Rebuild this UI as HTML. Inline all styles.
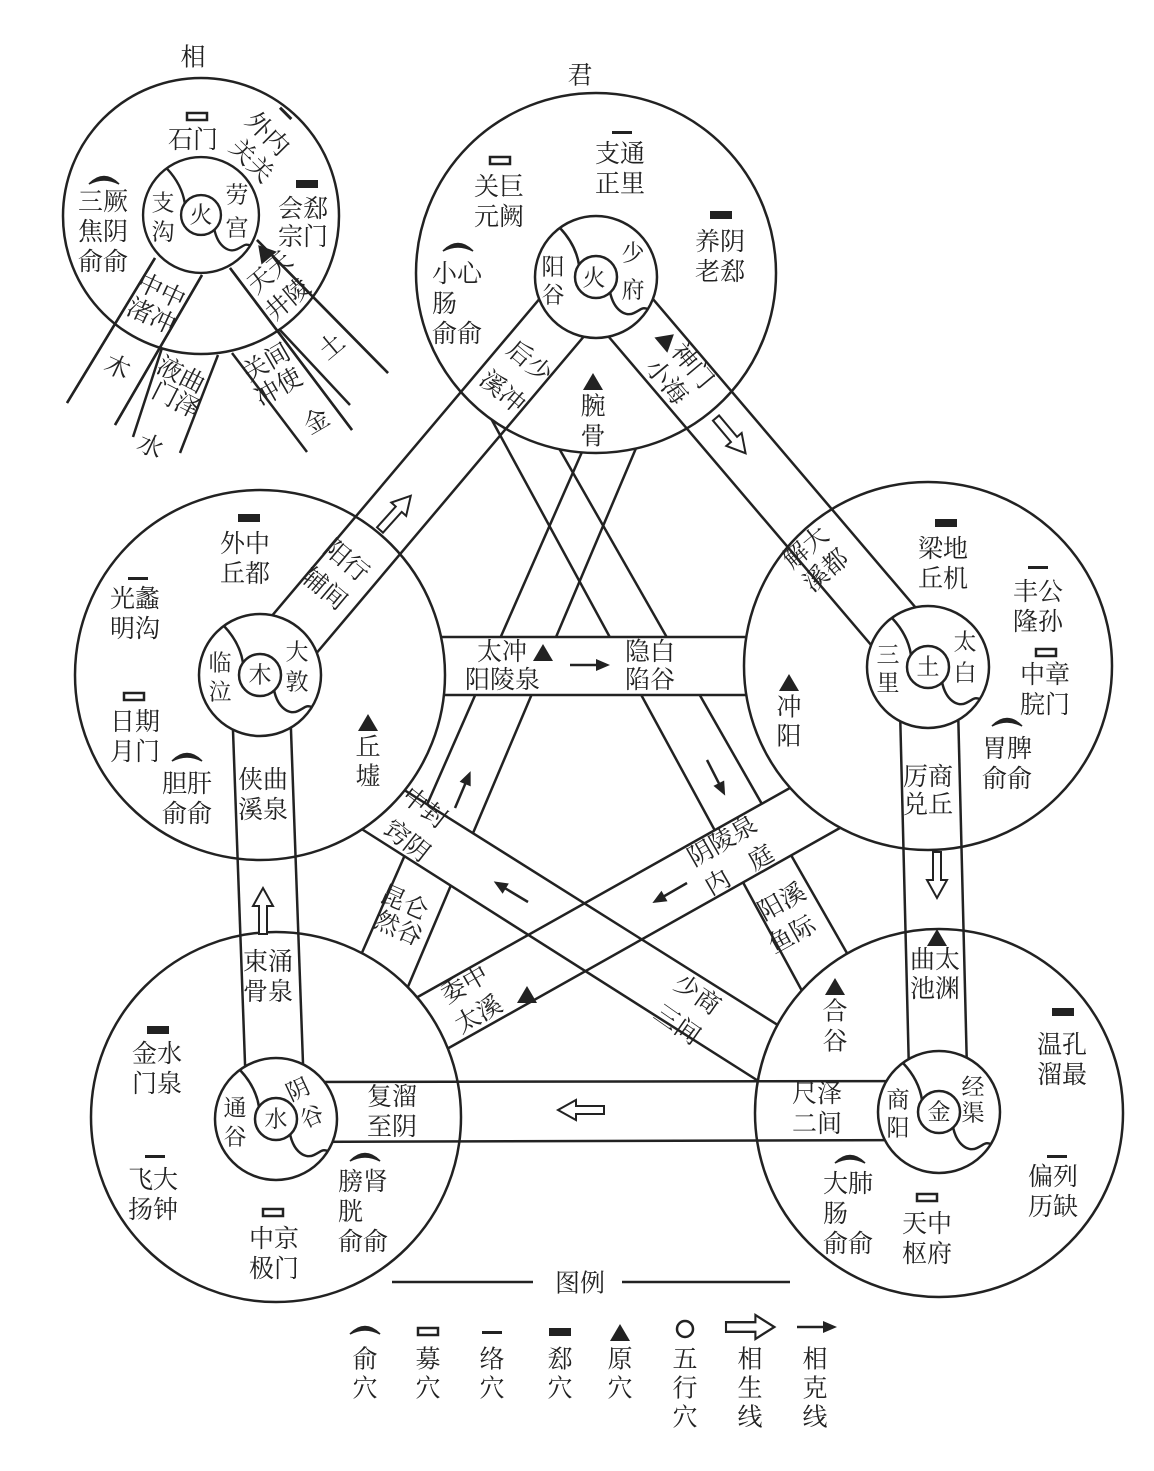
<!DOCTYPE html>
<html><head><meta charset="utf-8"><style>
html,body{margin:0;padding:0;background:#fff}
svg{display:block}
text{font-family:"Liberation Serif","Noto Serif CJK SC",serif;fill:#222;font-size:25px}
.c{text-anchor:middle;dominant-baseline:central}
.s{font-size:23px}
</style></head><body>
<svg width="1154" height="1471" viewBox="0 0 1154 1471" xmlns="http://www.w3.org/2000/svg">
<defs>
<g id="inner">
<circle r="61" fill="#fff" stroke="#222" stroke-width="2.5"/>
<path d="M-36,-49 Q-20,-32 -17,-12" fill="none" stroke="#222" stroke-width="2.5"/>
<path d="M14,15 C18,34 30,40 38,36 S46,30 52,32" fill="none" stroke="#222" stroke-width="2.5"/>
<circle r="21" fill="#fff" stroke="#222" stroke-width="2.5"/>
</g>
<path id="oarr" d="M0,-4 L28,-4 L28,-10 L46,0 L28,10 L28,4 L0,4 Z" fill="#fff" stroke="#222" stroke-width="2"/>
<g id="sarr"><line x1="0" y1="0" x2="30" y2="0" stroke="#222" stroke-width="2.5"/><polygon points="26,-6 40,0 26,6" fill="#222"/></g>
<path id="yu" d="M0,7 Q15,-8 30,7 Q15,-1 0,7Z" fill="#222" stroke="#222" stroke-width="1.5"/>
<rect id="mu" x="0" y="0" width="20" height="7" fill="#fff" stroke="#222" stroke-width="2.5"/>
<rect id="luo" x="0" y="0" width="20" height="3" fill="#222"/>
<rect id="xi" x="0" y="0" width="22" height="8" fill="#222"/>
<polygon id="yuan" points="0,-9 10,8 -10,8" fill="#222"/>
</defs>

<g stroke="#222" stroke-width="2.5" fill="none">
<!-- star lines -->
<line x1="481" y1="400" x2="814" y2="1013"/>
<line x1="552" y1="436" x2="860" y2="976"/>
<line x1="589" y1="436" x2="350" y2="980"/>
<line x1="642" y1="434" x2="396" y2="1015"/>
</g>
<g fill="#fff" stroke="none">
<polygon points="400,637 790,637 790,695 400,695"/>
<polygon points="382,776 800,1039 782,1096 338,814"/>
<polygon points="813,775 391,1012 422,1063 863,815"/>
</g>
<g stroke="#222" stroke-width="2.5" fill="none">
<line x1="400" y1="637" x2="790" y2="637"/>
<line x1="400" y1="695" x2="790" y2="695"/>
<line x1="382" y1="776" x2="800" y2="1039"/>
<line x1="338" y1="814" x2="782" y2="1096"/>
<line x1="813" y1="775" x2="391" y2="1012"/>
<line x1="863" y1="815" x2="422" y2="1063"/>
<!-- 相 lines -->
<line x1="155" y1="258" x2="67" y2="403"/>
<line x1="202" y1="275" x2="115" y2="425"/>
<line x1="162" y1="348" x2="133" y2="437"/>
<line x1="218" y1="355" x2="180" y2="453"/>
<line x1="232" y1="353" x2="307" y2="452"/>
<line x1="230" y1="268" x2="352" y2="430"/>
<line x1="280" y1="330" x2="350" y2="405"/>
<line x1="257" y1="240" x2="388" y2="373"/>
</g>
<!-- outer circles -->
<g fill="#fff" stroke="#222" stroke-width="2.5">
<circle cx="596" cy="273" r="180"/>
<circle cx="260" cy="675" r="185"/>
<circle cx="928" cy="666" r="184"/>
<circle cx="276" cy="1117" r="185"/>
<circle cx="939" cy="1113" r="184"/>
</g>
<circle cx="201" cy="216" r="138" fill="none" stroke="#222" stroke-width="2.5"/>
<!-- re-draw 相 lines inside circle -->
<g stroke="#222" stroke-width="2.5">
<line x1="155" y1="258" x2="67" y2="403"/>
<line x1="202" y1="275" x2="115" y2="425"/>
<line x1="230" y1="268" x2="352" y2="430"/>
<line x1="257" y1="240" x2="388" y2="373"/>
</g>
<!-- 生 bands -->
<g stroke="#222" stroke-width="2.5" fill="none">
<line x1="282" y1="694" x2="618" y2="296"/>
<line x1="238" y1="656" x2="574" y2="258"/>
<line x1="618" y1="258" x2="950" y2="648"/>
<line x1="574" y1="296" x2="906" y2="686"/>
<line x1="957" y1="666" x2="968" y2="1111"/>
<line x1="899" y1="668" x2="910" y2="1113"/>
<line x1="939" y1="1081" x2="276" y2="1082"/>
<line x1="939" y1="1140" x2="276" y2="1142"/>
<line x1="305" y1="1119" x2="289" y2="675"/>
<line x1="247" y1="1119" x2="231" y2="675"/>
</g>
<!-- inner circles -->
<use href="#inner" x="596" y="277"/>
<use href="#inner" x="260" y="675"/>
<use href="#inner" x="928" y="667"/>
<use href="#inner" x="276" y="1119"/>
<use href="#inner" x="939" y="1112"/>
<use href="#inner" transform="translate(201,215) scale(0.95)"/>

<!-- element chars -->
<text class="c s" x="594" y="278">火</text>
<text class="c s" x="260" y="675">木</text>
<text class="c s" x="928" y="667">土</text>
<text class="c s" x="276" y="1119">水</text>
<text class="c s" x="939" y="1112">金</text>
<text class="c s" x="201" y="215">火</text>

<!-- open arrows (相生) -->
<use href="#oarr" transform="translate(380,530) rotate(-48)"/>
<use href="#oarr" transform="translate(716,418) rotate(50)"/>
<use href="#oarr" transform="translate(937,852) rotate(90)"/>
<use href="#oarr" transform="translate(604,1110) rotate(180)"/>
<use href="#oarr" transform="translate(263,934) rotate(-90)"/>
<!-- solid arrows (相克) -->
<use href="#sarr" transform="translate(570,665)"/>
<use href="#sarr" transform="translate(455,808) rotate(-67)"/>
<use href="#sarr" transform="translate(707,760) rotate(63)"/>
<use href="#sarr" transform="translate(528,902) rotate(-149)"/>
<use href="#sarr" transform="translate(687,883) rotate(150)"/>

<!-- ===== 相 circle ===== -->
<text class="c" x="193" y="58">相</text>
<use href="#mu" x="187" y="113"/>
<text x="168" y="148">石门</text>
<rect x="278" y="112" width="16" height="3" fill="#222" transform="rotate(45 286 113)"/>
<text transform="translate(244,122) rotate(45)">外内</text>
<text transform="translate(228,149) rotate(45)">关关</text>
<use href="#xi" x="296" y="180"/>
<text x="278" y="217">会郄</text>
<text x="278" y="245">宗门</text>
<use href="#yu" x="89" y="177"/>
<text x="78" y="210">三厥</text>
<text x="78" y="240">焦阴</text>
<text x="78" y="270">俞俞</text>
<text class="c s" x="163" y="203">支</text>
<text class="c s" x="163" y="232">沟</text>
<text class="c s" x="237" y="195">劳</text>
<text class="c s" x="237" y="228">宫</text>
<polygon points="0,-9 10,8 -10,8" fill="#222" transform="translate(264,252) rotate(-40)"/>
<text transform="translate(256,295) rotate(-40)">天天</text>
<text transform="translate(274,322) rotate(-40)">井陵</text>
<text transform="translate(135,288) rotate(25)">中中</text>
<text transform="translate(125,313) rotate(25)">渚冲</text>
<text transform="translate(155,371) rotate(27)">液曲</text>
<text transform="translate(150,396) rotate(27)">门泽</text>
<text transform="translate(249,382) rotate(-30)">关间</text>
<text transform="translate(261,407) rotate(-30)">冲使</text>
<text class="c" transform="translate(117,368) rotate(25)">木</text>
<text class="c" transform="translate(150,447) rotate(25)">水</text>
<text class="c" transform="translate(317,422) rotate(-30)">金</text>
<text class="c" transform="translate(332,347) rotate(-40)">土</text>

<!-- ===== 君 circle ===== -->
<text class="c" x="580" y="76">君</text>
<use href="#mu" x="490" y="157"/>
<text x="474" y="195">关巨</text>
<text x="474" y="225">元阙</text>
<use href="#luo" x="612" y="131"/>
<text x="595" y="162">支通</text>
<text x="595" y="192">正里</text>
<use href="#xi" x="710" y="211"/>
<text x="695" y="250">养阴</text>
<text x="695" y="280">老郄</text>
<use href="#yu" x="443" y="244"/>
<text x="432" y="282">小心</text>
<text x="432" y="312">肠</text>
<text x="432" y="342">俞俞</text>
<text class="c s" x="553" y="267">阳</text>
<text class="c s" x="553" y="295">谷</text>
<text class="c s" x="633" y="253">少</text>
<text class="c s" x="633" y="290">府</text>
<use href="#yuan" x="593" y="382"/>
<text class="c" x="593" y="407">腕</text>
<text class="c" x="593" y="437">骨</text>
<text transform="translate(505,352) rotate(40)">后少</text>
<text transform="translate(478,382) rotate(40)">溪冲</text>
<polygon points="0,-9 10,8 -10,8" fill="#222" transform="translate(667,340) rotate(50)"/>
<text transform="translate(670,352) rotate(50)">神门</text>
<text transform="translate(644,368) rotate(50)">小海</text>

<!-- ===== 木 circle ===== -->
<use href="#xi" x="238" y="514"/>
<text x="220" y="552">外中</text>
<text x="220" y="582">丘都</text>
<use href="#luo" x="128" y="577"/>
<text x="110" y="607">光蠡</text>
<text x="110" y="637">明沟</text>
<use href="#mu" x="124" y="693"/>
<text x="110" y="730">日期</text>
<text x="110" y="760">月门</text>
<use href="#yu" x="172" y="754"/>
<text x="162" y="792">胆肝</text>
<text x="162" y="822">俞俞</text>
<text class="c s" x="220" y="663">临</text>
<text class="c s" x="220" y="692">泣</text>
<text class="c s" x="297" y="652">大</text>
<text class="c s" x="297" y="682">敦</text>
<use href="#yuan" x="368" y="723"/>
<text class="c" x="368" y="748">丘</text>
<text class="c" x="368" y="777">墟</text>
<text x="238" y="788">侠曲</text>
<text x="238" y="818">溪泉</text>
<text transform="translate(322,551) rotate(40)">阳行</text>
<text transform="translate(300,579) rotate(40)">辅间</text>

<!-- ===== 土 circle ===== -->
<use href="#xi" x="935" y="519"/>
<text x="918" y="557">梁地</text>
<text x="918" y="587">丘机</text>
<use href="#luo" x="1028" y="566"/>
<text x="1013" y="600">丰公</text>
<text x="1013" y="630">隆孙</text>
<use href="#mu" x="1036" y="649"/>
<text x="1020" y="683">中章</text>
<text x="1020" y="713">脘门</text>
<use href="#yu" x="992" y="719"/>
<text x="982" y="757">胃脾</text>
<text x="982" y="787">俞俞</text>
<text class="c s" x="888" y="655">三</text>
<text class="c s" x="888" y="683">里</text>
<text class="c s" x="965" y="642">太</text>
<text class="c s" x="965" y="673">白</text>
<use href="#yuan" x="789" y="683"/>
<text class="c" x="789" y="708">冲</text>
<text class="c" x="789" y="737">阳</text>
<text x="903" y="785">厉商</text>
<text x="903" y="813">兑丘</text>
<text transform="translate(792,570) rotate(-40)">解大</text>
<text transform="translate(812,593) rotate(-40)">溪都</text>

<!-- ===== 水 circle ===== -->
<use href="#xi" x="147" y="1026"/>
<text x="132" y="1062">金水</text>
<text x="132" y="1092">门泉</text>
<use href="#luo" x="145" y="1155"/>
<text x="128" y="1188">飞大</text>
<text x="128" y="1218">扬钟</text>
<use href="#mu" x="263" y="1209"/>
<text x="249" y="1247">中京</text>
<text x="249" y="1277">极门</text>
<use href="#yu" x="350" y="1154"/>
<text x="338" y="1190">膀肾</text>
<text x="338" y="1220">胱</text>
<text x="338" y="1250">俞俞</text>
<text class="c s" x="235" y="1108">通</text>
<text class="c s" x="235" y="1137">谷</text>
<text class="c s" transform="translate(298,1090) rotate(-25)">阴</text>
<text class="c s" transform="translate(312,1117) rotate(-25)">谷</text>
<text x="367" y="1105">复溜</text>
<text x="367" y="1135">至阴</text>
<text x="243" y="970">束涌</text>
<text x="243" y="1000">骨泉</text>

<!-- ===== 金 circle ===== -->
<use href="#yuan" x="937" y="938"/>
<text x="910" y="968">曲太</text>
<text x="910" y="997">池渊</text>
<use href="#xi" x="1052" y="1008"/>
<text x="1037" y="1053">温孔</text>
<text x="1037" y="1083">溜最</text>
<use href="#yuan" x="835" y="987"/>
<text class="c" x="835" y="1012">合</text>
<text class="c" x="835" y="1042">谷</text>
<text x="792" y="1102">尺泽</text>
<text x="792" y="1132">二间</text>
<text class="c s" x="898" y="1100">商</text>
<text class="c s" x="898" y="1128">阳</text>
<text class="c s" x="973" y="1087">经</text>
<text class="c s" x="973" y="1113">渠</text>
<use href="#yu" x="835" y="1156"/>
<text x="823" y="1192">大肺</text>
<text x="823" y="1222">肠</text>
<text x="823" y="1252">俞俞</text>
<use href="#mu" x="917" y="1194"/>
<text x="902" y="1232">天中</text>
<text x="902" y="1262">枢府</text>
<use href="#luo" x="1047" y="1155"/>
<text x="1028" y="1185">偏列</text>
<text x="1028" y="1215">历缺</text>

<!-- ===== center star labels ===== -->
<text x="477" y="660">太冲</text>
<use href="#yuan" x="543" y="653"/>
<text x="465" y="688">阳陵泉</text>
<text x="625" y="660">隐白</text>
<text x="625" y="688">陷谷</text>
<text transform="translate(400,799) rotate(38)">中封</text>
<text transform="translate(382,832) rotate(38)">窍阴</text>
<text transform="translate(378,900) rotate(24)">昆仑</text>
<text transform="translate(372,926) rotate(24)">然谷</text>
<text transform="translate(694,867) rotate(-30)">阴陵泉</text>
<text transform="translate(711,896) rotate(-30)">内　庭</text>
<text transform="translate(447,1004) rotate(-30)">委中</text>
<text transform="translate(461,1034) rotate(-30)">太溪</text>
<use href="#yuan" x="527" y="995"/>
<text transform="translate(764,921) rotate(-29)">阳溪</text>
<text transform="translate(774,954) rotate(-29)">鱼际</text>
<text transform="translate(672,987) rotate(35)">少商</text>
<text transform="translate(652,1017) rotate(35)">三间</text>

<!-- ===== legend ===== -->
<line x1="392" y1="1282" x2="533" y2="1282" stroke="#222" stroke-width="2.5"/>
<line x1="622" y1="1282" x2="790" y2="1282" stroke="#222" stroke-width="2.5"/>
<text class="c" x="580" y="1284">图例</text>
<use href="#yu" x="350" y="1327"/>
<use href="#mu" x="418" y="1328"/>
<use href="#luo" x="482" y="1331"/>
<use href="#xi" x="549" y="1328"/>
<use href="#yuan" x="620" y="1333"/>
<circle cx="685" cy="1329" r="8" fill="#fff" stroke="#222" stroke-width="2.5"/>
<use href="#oarr" transform="translate(726,1327) scale(1.05,1.2)"/>
<use href="#sarr" transform="translate(797,1327)"/>
<g class="c">
<text class="c" x="365" y="1360">俞</text><text class="c" x="365" y="1389">穴</text>
<text class="c" x="428" y="1360">募</text><text class="c" x="428" y="1389">穴</text>
<text class="c" x="492" y="1360">络</text><text class="c" x="492" y="1389">穴</text>
<text class="c" x="560" y="1360">郄</text><text class="c" x="560" y="1389">穴</text>
<text class="c" x="620" y="1360">原</text><text class="c" x="620" y="1389">穴</text>
<text class="c" x="685" y="1360">五</text><text class="c" x="685" y="1389">行</text><text class="c" x="685" y="1418">穴</text>
<text class="c" x="750" y="1360">相</text><text class="c" x="750" y="1389">生</text><text class="c" x="750" y="1418">线</text>
<text class="c" x="815" y="1360">相</text><text class="c" x="815" y="1389">克</text><text class="c" x="815" y="1418">线</text>
</g>
</svg>
</body></html>
